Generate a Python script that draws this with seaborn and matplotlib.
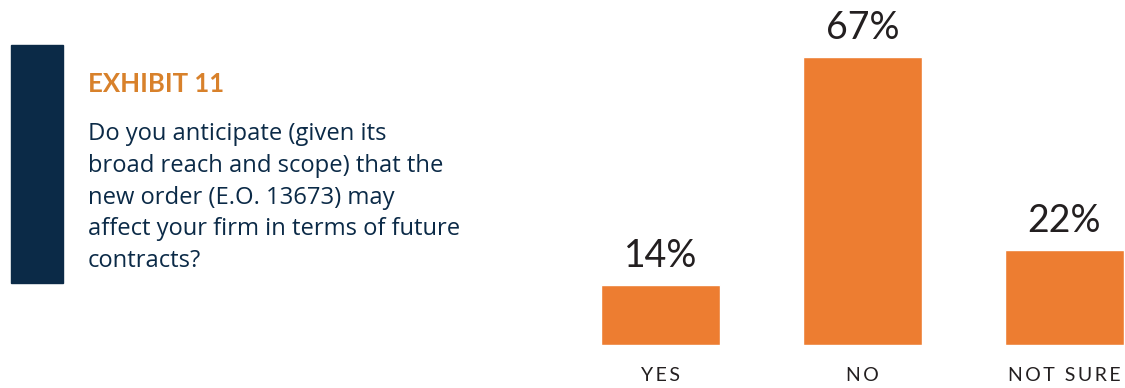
import matplotlib
matplotlib.use("Agg")
import matplotlib.pyplot as plt
from matplotlib.patches import Rectangle
import seaborn as sns

categories = ["YES", "NO", "NOT SURE"]
values = [14, 67, 22]
value_labels = ["14%", "67%", "22%"]

title = "EXHIBIT 11"
question_lines = [
    "Do you anticipate (given its",
    "broad reach and scope) that the",
    "new order (E.O. 13673) may",
    "affect your firm in terms of future",
    "contracts?",
]

ORANGE = "#ed7d31"
NAVY = "#0b2a47"
TITLE_ORANGE = "#d8812b"
INK = "#231f20"

sns.set_theme(style="white")
plt.rcParams["font.family"] = ["Lato", "DejaVu Sans"]

W, H = 1125, 388
fig = plt.figure(figsize=(W / 100, H / 100), dpi=100)

# navy side bar
fig.patches.append(Rectangle((11 / W, 1 - 283 / H), 52 / W, 238 / H,
                             transform=fig.transFigure, color=NAVY, zorder=0))
fig.text(88 / W, 1 - 92 / H, title, color=TITLE_ORANGE, fontsize=18.5,
         fontweight="bold", ha="left", va="baseline")
for k, line in enumerate(question_lines):
    fig.text(88 / W, 1 - (140 + 31.75 * k) / H, line, color=NAVY,
             fontsize=17.1, family=["Open Sans", "DejaVu Sans"],
             ha="left", va="baseline")

# bar chart
ax = fig.add_axes([600 / W, 43 / H, 525 / W, 345 / H])
sns.barplot(x=categories, y=values, color=ORANGE, width=0.593,
            saturation=1, ax=ax)
ax.set_xlim(-0.3, 2.3)
ax.set_ylim(0, 80.2)
for i, (v, lab) in enumerate(zip(values, value_labels)):
    ax.annotate(lab, (i, v), xytext=(0, 8), textcoords="offset points",
                ha="center", va="bottom", fontsize=27, color=INK)

spaced = ["\u2009".join(list(c)) for c in categories]
ax.set_xticks(range(len(categories)))
ax.set_xticklabels(spaced, fontsize=14, color=INK)
ax.tick_params(axis="x", length=0, pad=16)
ax.set_yticks([])
ax.set_xlabel("")
ax.set_ylabel("")
sns.despine(ax=ax, left=True, bottom=True)

fig.savefig("out.png", dpi=100)
